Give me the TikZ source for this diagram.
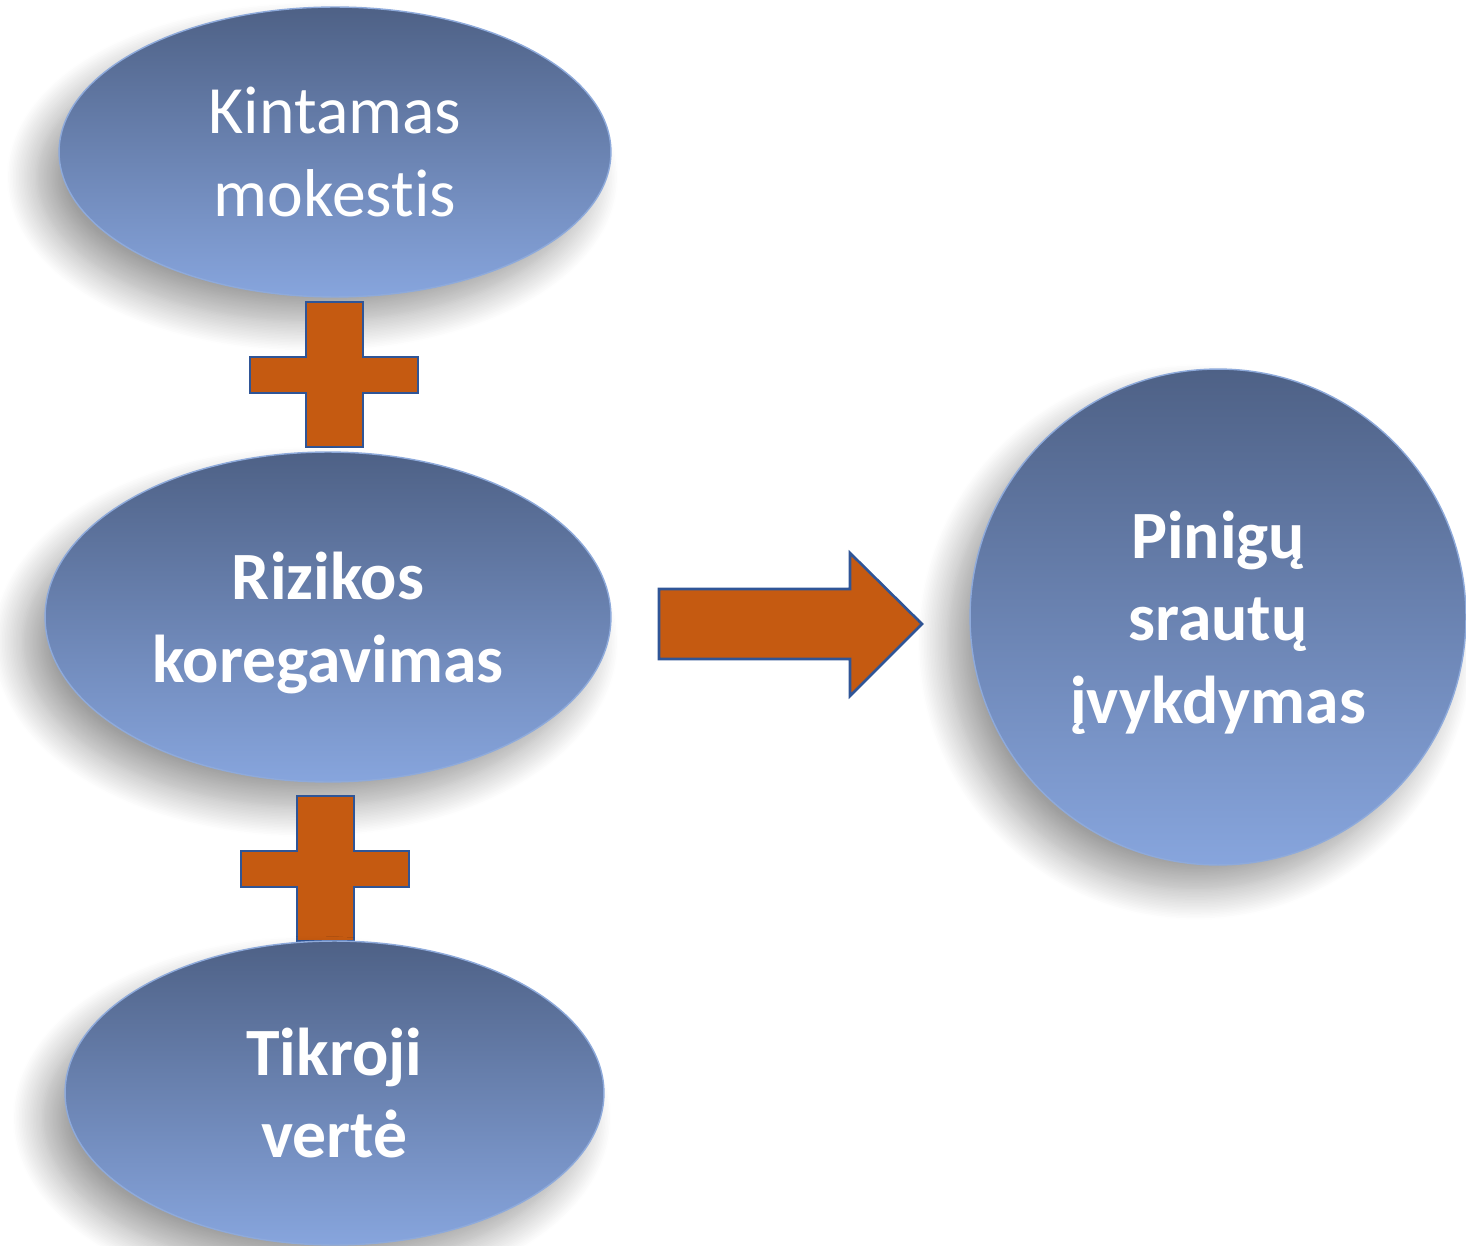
\documentclass[tikz,border=0pt]{standalone}
\usepackage{fontspec}
\setmainfont{Carlito}[Ligatures=NoCommon]
\usetikzlibrary{shapes.geometric,shadows.blur}
\definecolor{topblue}{HTML}{4E6186}
\definecolor{botblue}{HTML}{87A5DD}
\definecolor{rimblue}{HTML}{8EAADB}
\definecolor{plusfill}{HTML}{C55A11}
\definecolor{plusline}{HTML}{2F5597}
\begin{document}
\begin{tikzpicture}[x=0.02cm,y=-0.02cm,
  bubble/.style={ellipse, inner sep=0pt, draw=rimblue, line width=0.8pt,
    top color=topblue, bottom color=botblue, text=white, align=center,
    font=\fontsize{38.5}{47}\selectfont,
    blur shadow={shadow xshift=-0.45cm, shadow yshift=-0.5cm,
      shadow blur radius=0.6cm, shadow blur steps=20, shadow opacity=38}},
  boldtext/.style={font=\fontsize{38.5}{47}\selectfont\bfseries},
  sign/.style={fill=plusfill, draw=plusline, line width=1.5pt, line join=miter}]
\useasboundingbox (0,0) rectangle (1466,1246);

\node[bubble, minimum width=11.04cm, minimum height=5.8cm] (kint) at (335,152) {Kintamas\\mokestis};

\draw[sign] (306,302) -- (363,302) -- (363,357) -- (418,357) -- (418,393) -- (363,393)
  -- (363,447) -- (306,447) -- (306,393) -- (250,393) -- (250,357) -- (306,357) -- cycle;

\node[bubble, boldtext, text depth=0pt, minimum width=11.32cm, minimum height=6.6cm] (rizik) at (328,617) {Rizikos\\koregavimas};

\draw[sign, shift={(-9,494)}] (306,302) -- (363,302) -- (363,357) -- (418,357) -- (418,393) -- (363,393)
  -- (363,447) -- (306,447) -- (306,393) -- (250,393) -- (250,357) -- (306,357) -- cycle;

\node[bubble, boldtext, minimum width=10.78cm, minimum height=6.08cm] (tikr) at (334.5,1093) {Tikroji\\vertė};

\draw[sign] (659,589) -- (850,589) -- (850,553) -- (922,624) -- (850,696) -- (850,659) -- (659,659) -- cycle;

\node[bubble, boldtext, text depth=0pt, minimum width=9.92cm, minimum height=9.92cm] (pin) at (1218,617) {Pinigų\\srautų\\įvykdymas};
\end{tikzpicture}
\end{document}
